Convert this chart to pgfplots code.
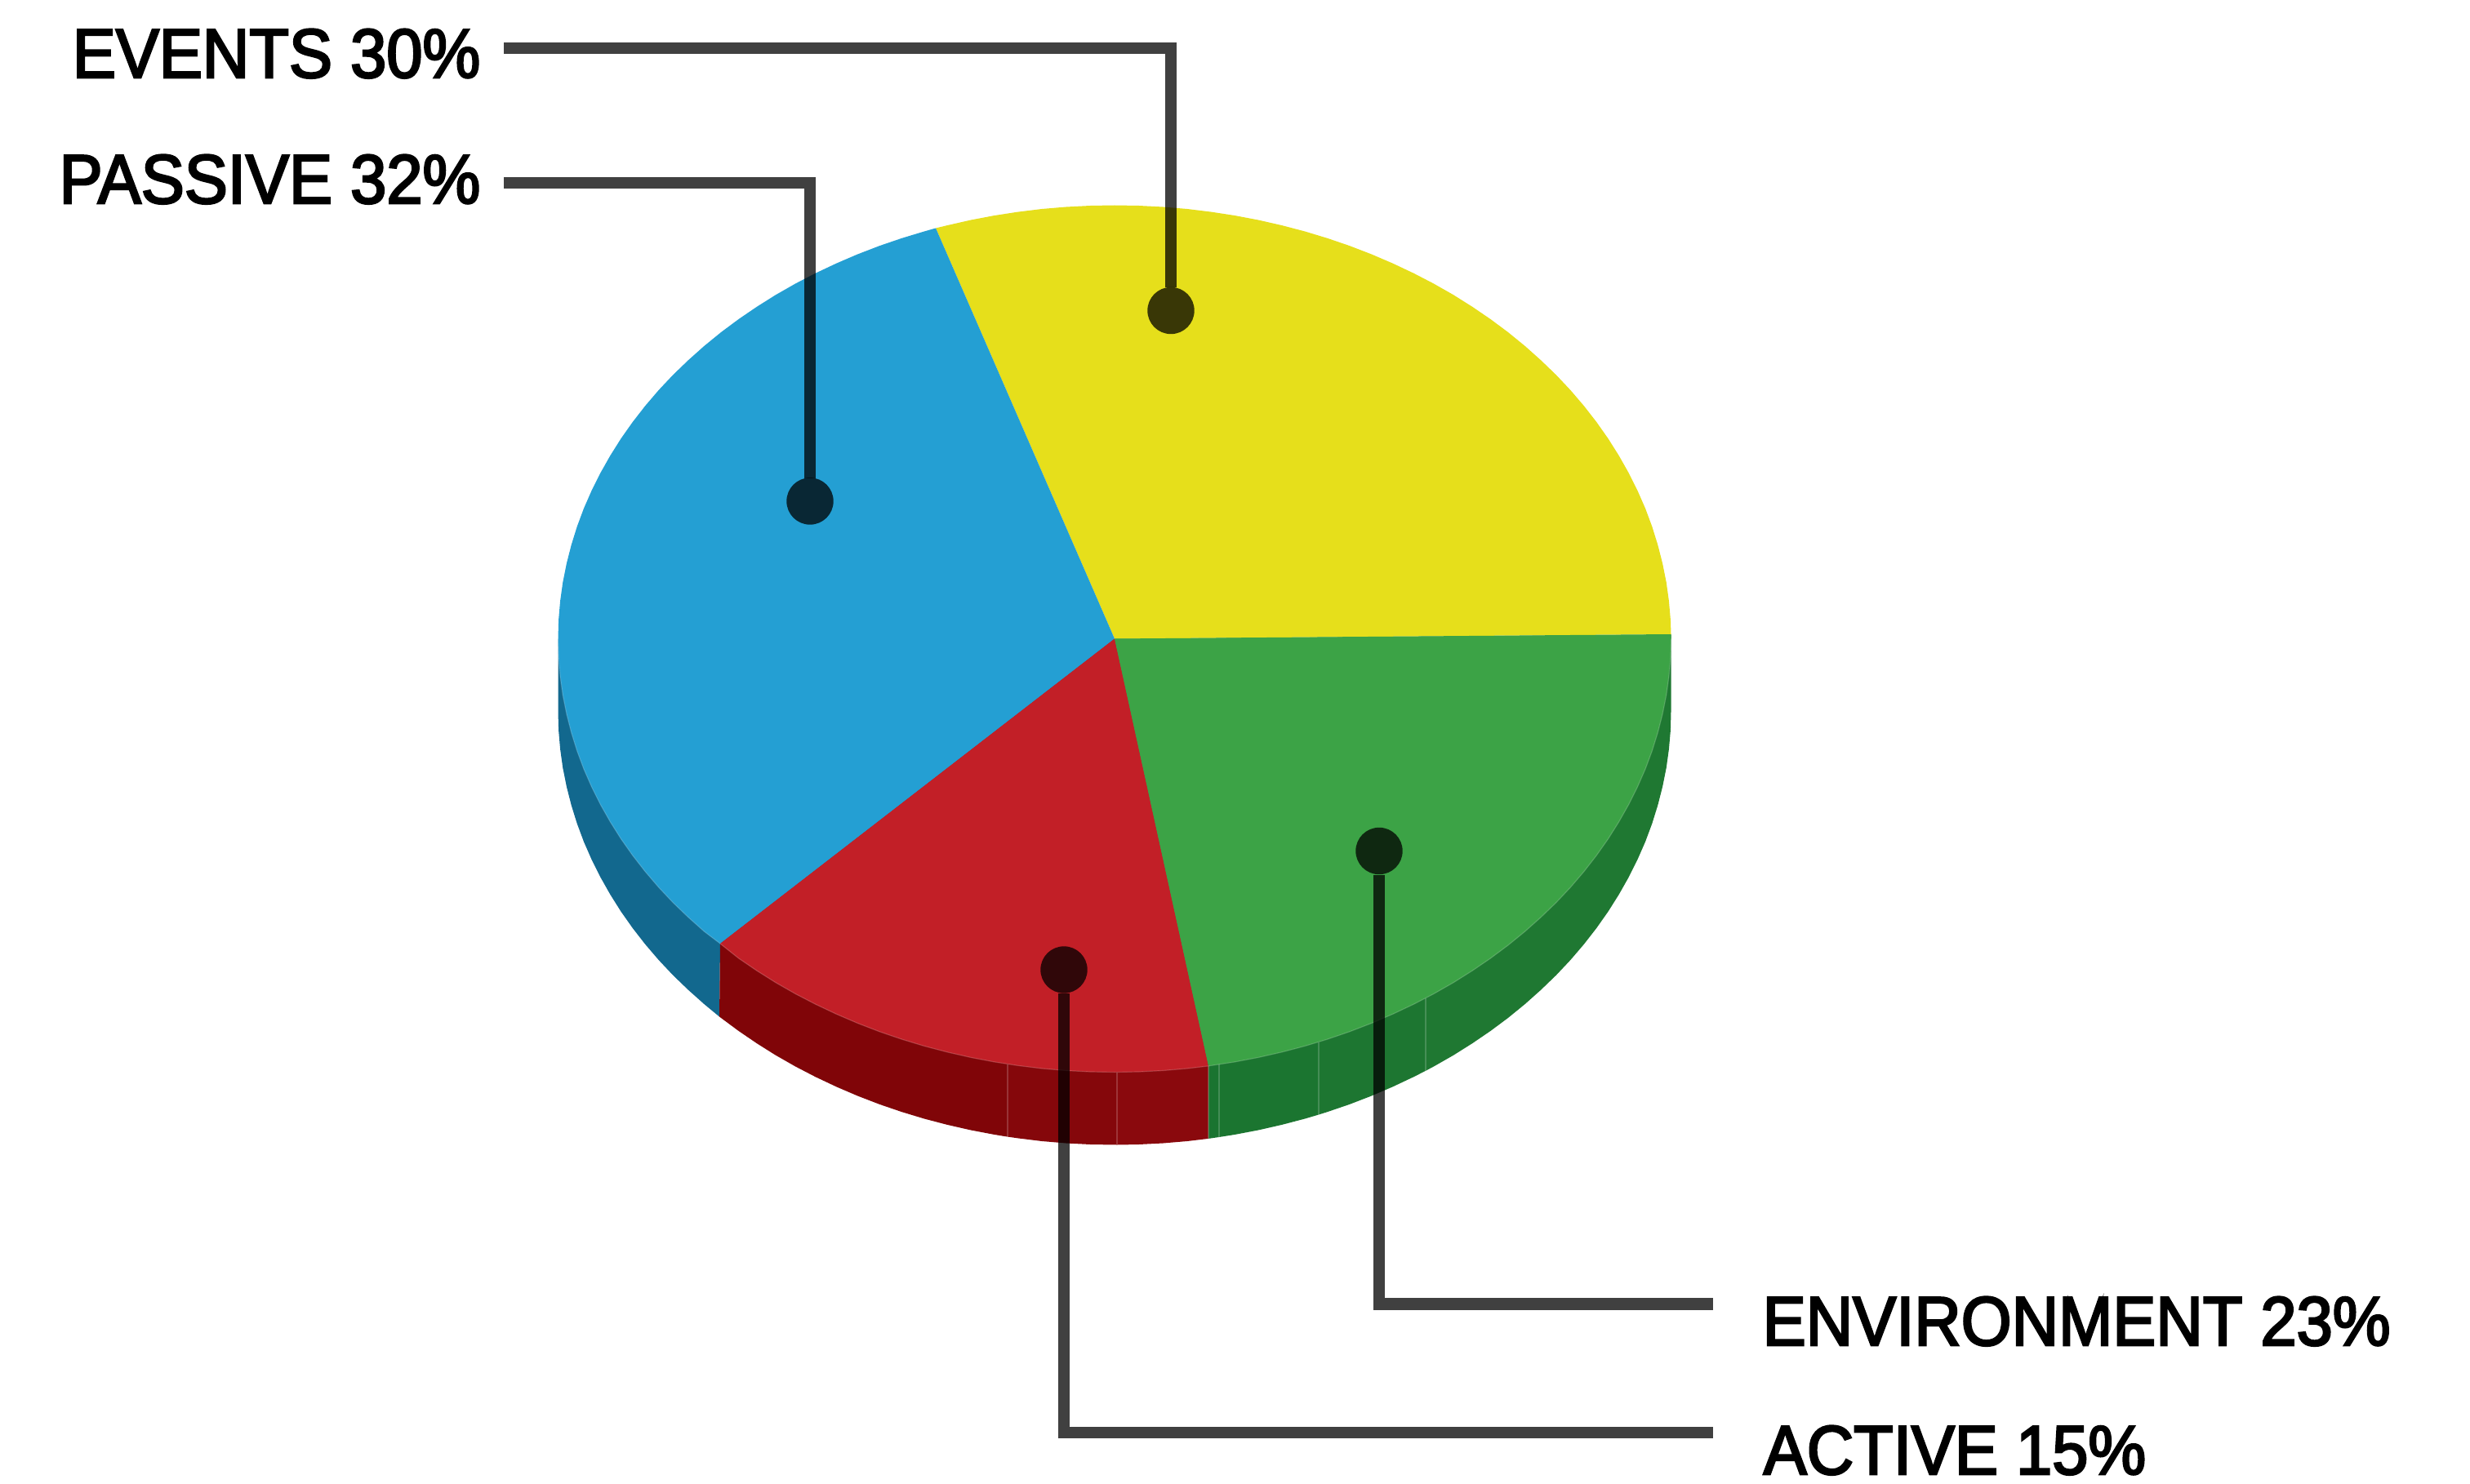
\documentclass[border=0pt]{standalone}
\usepackage{fontspec}
\setmainfont[FakeStretch=0.935,FakeBold=3]{Liberation Sans}
\usepackage{pgfplots}
\pgfplotsset{compat=1.18}
\definecolor{cyellow}{HTML}{E6DF1B}
\definecolor{cblue}{HTML}{249FD3}
\definecolor{cred}{HTML}{C21F27}
\definecolor{cgreen}{HTML}{3CA346}
\definecolor{sideblue}{HTML}{12688E}
\definecolor{sidered}{HTML}{800508}
\definecolor{sideredb}{HTML}{85070B}
\definecolor{sideredc}{HTML}{8A090D}
\definecolor{sidegreen}{HTML}{1A7430}
\definecolor{sidegreenb}{HTML}{1B7530}
\definecolor{sidegreenc}{HTML}{1D7631}
\definecolor{sidegreend}{HTML}{1F7832}
\definecolor{leader}{HTML}{404040}
\pgfdeclareplotmark{flatdot}{\pgfpathcircle{\pgfpointorigin}{\pgfplotmarksize}\pgfusepathqfill}
\pgfplotsset{
  slice/.style={fill=#1,draw=none,mark=none},
  seam/.style={draw=white,draw opacity=0.18,line width=0.012cm,mark=none},
  leaderline/.style={draw=leader,line width=0.145cm,mark=none,line join=miter,blend mode=multiply},
  leaderdot/.style={only marks,mark=flatdot,mark size=0.287cm,mark options={fill=leader},blend mode=multiply},
}
\newcommand{\lab}[1]{\fontsize{24.2}{29}\selectfont #1}
\begin{document}
\begin{tikzpicture}
\begin{axis}[
    scale only axis,
    width=30.25cm,
    height=18.17cm,
    xmin=-1365, xmax=1660,
    ymin=-1034.5, ymax=782.5,
    hide axis,
    clip=false,
  ]
  % keeps the page as large as the whole axis
  \path (axis cs:-1365,-1034.5) rectangle (axis cs:1660,782.5);

  % rim of the disc, drawn first, the top covers the inner part
  \addplot[slice=sideblue] coordinates {(0,0) (-681.5,0) (-681.5,-89) (-680.9,-112.2) (-678.9,-135.3) (-675.7,-158.3) (-671.1,-181.2) (-665.3,-203.9) (-658.3,-226.4) (-650,-248.7) (-640.4,-270.6) (-629.6,-292.2) (-617.6,-313.4) (-604.5,-334.2) (-590.2,-354.5) (-574.8,-374.3) (-558.3,-393.6) (-540.7,-412.3) (-522,-430.3) (-502.5,-447.7) (-484,-463) (-483,-373.5)} --cycle;
  \addplot[slice=sidered] coordinates {(0,0) (-483,-373.5) (-484,-463) (-460.4,-480.5) (-438.1,-495.7) (-414.9,-510.3) (-390.9,-524) (-366.2,-536.8) (-340.8,-548.8) (-314.7,-560) (-288,-570.3) (-260.8,-579.6) (-233.1,-588) (-204.9,-595.4) (-176.4,-601.9) (-147.5,-607.4) (-131,-610.1) (-131,-521.1)} --cycle;
  \addplot[slice=sideredb] coordinates {(0,0) (-131,-521.1) (-131,-610.1) (-118.3,-611.9) (-89,-615.5) (-59.4,-618) (-29.7,-619.5) (3,-620) (3,-531)} --cycle;
  \addplot[slice=sideredc] coordinates {(0,0) (3,-531) (3,-620) (29.7,-619.5) (59.4,-618) (89,-615.5) (115,-612.4) (115,-523.4)} --cycle;
  \addplot[slice=sidegreen] coordinates {(0,0) (115,-523.4) (115,-612.4) (128,-610.5) (128,-521.5)} --cycle;
  \addplot[slice=sidegreenb] coordinates {(0,0) (128,-521.5) (128,-610.5) (147.5,-607.4) (176.4,-601.9) (204.9,-595.4) (233.1,-588) (250,-583) (250,-494)} --cycle;
  \addplot[slice=sidegreenc] coordinates {(0,0) (250,-494) (250,-583) (260.8,-579.6) (288,-570.3) (314.7,-560) (340.8,-548.8) (366.2,-536.8) (381,-529.3) (381,-440.3)} --cycle;
  \addplot[slice=sidegreend] coordinates {(0,0) (381,-440.3) (381,-529.3) (390.9,-524) (414.9,-510.3) (438.1,-495.7) (460.4,-480.5) (481.9,-464.5) (502.5,-447.7) (522,-430.3) (540.7,-412.3) (558.3,-393.6) (574.8,-374.3) (590.2,-354.5) (604.5,-334.2) (617.6,-313.4) (629.6,-292.2) (640.4,-270.6) (650,-248.7) (658.3,-226.4) (665.3,-203.9) (671.1,-181.2) (675.7,-158.3) (678.9,-135.3) (680.9,-112.2) (681.5,-89) (681.5,5)} --cycle;
  % thin seams between the rim pieces
  \addplot[seam] coordinates {(-131,-521.1) (-131,-610.1)};
  \addplot[seam] coordinates {(3,-531) (3,-620)};
  \addplot[seam] coordinates {(115,-523.4) (115,-612.4)};
  \addplot[seam] coordinates {(128,-521.5) (128,-610.5)};
  \addplot[seam] coordinates {(250,-494) (250,-583)};
  \addplot[seam] coordinates {(381,-440.3) (381,-529.3)};

  % top of the disc
  % EVENTS 30
  \addplot[slice=cyellow] coordinates {(0,0) (681.5,5.5) (680.9,23.2) (678.9,46.3) (675.7,69.3) (671.1,92.2) (665.3,114.9) (658.3,137.4) (650,159.7) (640.4,181.6) (629.6,203.2) (617.6,224.4) (604.5,245.2) (590.2,265.5) (574.8,285.3) (558.3,304.6) (540.7,323.3) (522,341.3) (502.5,358.7) (481.9,375.5) (460.4,391.5) (438.1,406.7) (414.9,421.3) (390.9,435) (366.2,447.8) (340.8,459.8) (314.7,471) (288,481.3) (260.8,490.6) (233.1,499) (204.9,506.4) (176.4,512.9) (147.5,518.4) (118.3,522.9) (89,526.5) (59.4,529) (29.7,530.5) (0,531) (-29.7,530.5) (-59.4,529) (-89,526.5) (-118.3,522.9) (-147.5,518.4) (-176.4,512.9) (-204.9,506.4) (-219,503)} --cycle;
  % PASSIVE 32
  \addplot[slice=cblue] coordinates {(0,0) (-219,503) (-233.1,499) (-260.8,490.6) (-288,481.3) (-314.7,471) (-340.8,459.8) (-366.2,447.8) (-390.9,435) (-414.9,421.3) (-438.1,406.7) (-460.4,391.5) (-481.9,375.5) (-502.5,358.7) (-522,341.3) (-540.7,323.3) (-558.3,304.6) (-574.8,285.3) (-590.2,265.5) (-604.5,245.2) (-617.6,224.4) (-629.6,203.2) (-640.4,181.6) (-650,159.7) (-658.3,137.4) (-665.3,114.9) (-671.1,92.2) (-675.7,69.3) (-678.9,46.3) (-680.9,23.2) (-681.5,0) (-680.9,-23.2) (-678.9,-46.3) (-675.7,-69.3) (-671.1,-92.2) (-665.3,-114.9) (-658.3,-137.4) (-650,-159.7) (-640.4,-181.6) (-629.6,-203.2) (-617.6,-224.4) (-604.5,-245.2) (-590.2,-265.5) (-574.8,-285.3) (-558.3,-304.6) (-540.7,-323.3) (-522,-341.3) (-502.5,-358.7) (-483,-373.5)} --cycle;
  % ACTIVE 15
  \addplot[slice=cred] coordinates {(0,0) (-483,-373.5) (-460.4,-391.5) (-438.1,-406.7) (-414.9,-421.3) (-390.9,-435) (-366.2,-447.8) (-340.8,-459.8) (-314.7,-471) (-288,-481.3) (-260.8,-490.6) (-233.1,-499) (-204.9,-506.4) (-176.4,-512.9) (-147.5,-518.4) (-118.3,-522.9) (-89,-526.5) (-59.4,-529) (-29.7,-530.5) (0,-531) (29.7,-530.5) (59.4,-529) (89,-526.5) (115,-523.4)} --cycle;
  % ENVIRONMENT 23
  \addplot[slice=cgreen] coordinates {(0,0) (115,-523.4) (147.5,-518.4) (176.4,-512.9) (204.9,-506.4) (233.1,-499) (260.8,-490.6) (288,-481.3) (314.7,-471) (340.8,-459.8) (366.2,-447.8) (390.9,-435) (414.9,-421.3) (438.1,-406.7) (460.4,-391.5) (481.9,-375.5) (502.5,-358.7) (522,-341.3) (540.7,-323.3) (558.3,-304.6) (574.8,-285.3) (590.2,-265.5) (604.5,-245.2) (617.6,-224.4) (629.6,-203.2) (640.4,-181.6) (650,-159.7) (658.3,-137.4) (665.3,-114.9) (671.1,-92.2) (675.7,-69.3) (678.9,-46.3) (680.9,-23.2) (681.5,0) (681.5,5.5)} --cycle;
  % light edge of the top against the rim
  \addplot[seam] coordinates {(-681.5,0) (-680.9,-23.2) (-678.9,-46.3) (-675.7,-69.3) (-671.1,-92.2) (-665.3,-114.9) (-658.3,-137.4) (-650,-159.7) (-640.4,-181.6) (-629.6,-203.2) (-617.6,-224.4) (-604.5,-245.2) (-590.2,-265.5) (-574.8,-285.3) (-558.3,-304.6) (-540.7,-323.3) (-522,-341.3) (-502.5,-358.7) (-483,-373.5) (-460.4,-391.5) (-438.1,-406.7) (-414.9,-421.3) (-390.9,-435) (-366.2,-447.8) (-340.8,-459.8) (-314.7,-471) (-288,-481.3) (-260.8,-490.6) (-233.1,-499) (-204.9,-506.4) (-176.4,-512.9) (-147.5,-518.4) (-118.3,-522.9) (-89,-526.5) (-59.4,-529) (-29.7,-530.5) (0,-531) (29.7,-530.5) (59.4,-529) (89,-526.5) (115,-523.4) (147.5,-518.4) (176.4,-512.9) (204.9,-506.4) (233.1,-499) (260.8,-490.6) (288,-481.3) (314.7,-471) (340.8,-459.8) (366.2,-447.8) (390.9,-435) (414.9,-421.3) (438.1,-406.7) (460.4,-391.5) (481.9,-375.5) (502.5,-358.7) (522,-341.3) (540.7,-323.3) (558.3,-304.6) (574.8,-285.3) (590.2,-265.5) (604.5,-245.2) (617.6,-224.4) (629.6,-203.2) (640.4,-181.6) (650,-159.7) (658.3,-137.4) (665.3,-114.9) (671.1,-92.2) (675.7,-69.3) (678.9,-46.3) (680.9,-23.2) (681.5,0)};

  % leader lines and their dots
  \addplot[leaderline] coordinates {(-748,723.5) (69,723.5) (69,430)};
  \addplot[leaderline] coordinates {(-748,558.5) (-373,558.5) (-373,197)};
  \addplot[leaderline] coordinates {(733,-815) (324,-815) (324,-289)};
  \addplot[leaderline] coordinates {(733,-972.5) (-62,-972.5) (-62,-434)};
  \addplot[leaderdot] coordinates {(69,402) (-373,168.5) (324,-260) (-62,-405.5)};

  \node[anchor=base east,inner sep=0pt] at (axis cs:-776,687.5) {\lab{EVENTS 30\%}};
  \node[anchor=base east,inner sep=0pt] at (axis cs:-776,533.5) {\lab{PASSIVE 32\%}};
  \node[anchor=base west,inner sep=0pt] at (axis cs:793,-865.5) {\lab{ENVIRONMENT 23\%}};
  \node[anchor=base west,inner sep=0pt] at (axis cs:794,-1023.5) {\lab{ACTIVE 15\%}};
\end{axis}
\end{tikzpicture}
\end{document}
